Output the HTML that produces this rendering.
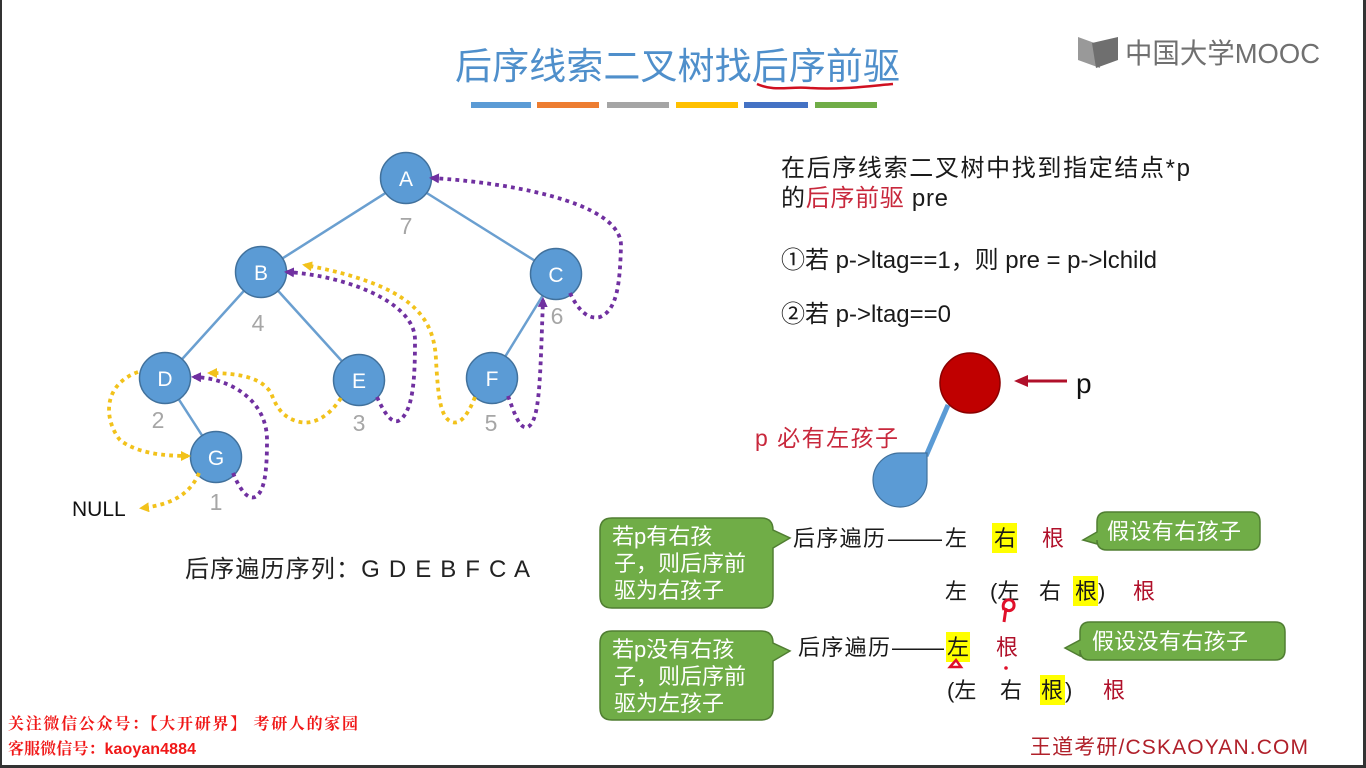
<!DOCTYPE html>
<html><head><meta charset="utf-8"><style>
html,body{margin:0;padding:0;background:#fff;}
body{width:1366px;height:768px;overflow:hidden;position:relative;}
svg{position:absolute;left:0;top:0;}
text{font-family:"Liberation Sans","Noto Sans CJK SC",sans-serif;}
</style></head><body>
<svg width="1366" height="768" viewBox="0 0 1366 768" xmlns="http://www.w3.org/2000/svg">
<defs>
<marker id="mp" markerWidth="10" markerHeight="10" refX="7" refY="5" orient="auto" markerUnits="userSpaceOnUse"><path d="M0,0 L10,5 L0,10 Z" fill="#7030A0"/></marker>
<marker id="my" markerWidth="10" markerHeight="10" refX="7" refY="5" orient="auto" markerUnits="userSpaceOnUse"><path d="M0,0 L10,5 L0,10 Z" fill="#F2C21B"/></marker>
<marker id="mr" markerWidth="14" markerHeight="14" refX="10" refY="7" orient="auto" markerUnits="userSpaceOnUse"><path d="M0,1 L14,7 L0,13 Z" fill="#B0102A"/></marker>
</defs>
<!-- borders -->
<rect x="0" y="0" width="2" height="768" fill="#333"/>
<rect x="1363" y="0" width="3" height="768" fill="#333"/>
<rect x="0" y="765" width="1366" height="3" fill="#333"/>

<!-- title -->
<text x="455" y="79" font-size="37" fill="#4F8FCB" textLength="445" lengthAdjust="spacing">后序线索二叉树找后序前驱</text>
<path d="M757,84 C775,92 790,86 810,88 C840,90 870,86 893,84" stroke="#D01020" stroke-width="2.5" fill="none"/>
<rect x="471" y="102" width="60" height="6" fill="#5B9BD5"/>
<rect x="537" y="102" width="62" height="6" fill="#ED7D31"/>
<rect x="607" y="102" width="62" height="6" fill="#A5A5A5"/>
<rect x="676" y="102" width="62" height="6" fill="#FFC000"/>
<rect x="744" y="102" width="64" height="6" fill="#4472C4"/>
<rect x="815" y="102" width="62" height="6" fill="#70AD47"/>

<!-- MOOC logo -->
<path d="M1078,37 L1100,45 L1100,68 L1078,60 Z" fill="#999"/>
<path d="M1092,43 L1118,37 L1118,60 L1096,68 Z" fill="#6f6f6f"/>
<text x="1125" y="63" font-size="28" fill="#707070" textLength="195" lengthAdjust="spacingAndGlyphs">中国大学MOOC</text>

<!-- tree edges -->
<g stroke="#6A9FD0" stroke-width="2.5">
<line x1="406" y1="180" x2="261" y2="272"/>
<line x1="406" y1="180" x2="556" y2="274"/>
<line x1="261" y1="272" x2="165" y2="378"/>
<line x1="261" y1="272" x2="359" y2="380"/>
<line x1="556" y1="274" x2="492" y2="378"/>
<line x1="165" y1="378" x2="216" y2="457"/>
</g>
<!-- nodes -->
<g fill="#5B9BD5" stroke="#41719C" stroke-width="1.5">
<circle cx="406" cy="178" r="25.5"/>
<circle cx="261" cy="272" r="25.5"/>
<circle cx="556" cy="274" r="25.5"/>
<circle cx="165" cy="378" r="25.5"/>
<circle cx="359" cy="380" r="25.5"/>
<circle cx="492" cy="378" r="25.5"/>
<circle cx="216" cy="457" r="25.5"/>
</g>
<g font-size="21" fill="#fff" text-anchor="middle">
<text x="406" y="186">A</text>
<text x="261" y="280">B</text>
<text x="556" y="282">C</text>
<text x="165" y="386">D</text>
<text x="359" y="388">E</text>
<text x="492" y="386">F</text>
<text x="216" y="465">G</text>
</g>
<g font-size="23" fill="#A6A6A6" text-anchor="middle">
<text x="406" y="234">7</text>
<text x="258" y="331">4</text>
<text x="557" y="324">6</text>
<text x="158" y="428">2</text>
<text x="359" y="431">3</text>
<text x="491" y="431">5</text>
<text x="216" y="510">1</text>
</g>
<text x="72" y="516" font-size="21" fill="#111">NULL</text>

<!-- yellow dotted -->
<g fill="none" stroke="#F2C21B" stroke-width="3.8" stroke-dasharray="3.8 4.2">
<path d="M199,473 C190,495 170,505 142,508" marker-end="url(#my)"/>
<path d="M138,372 C102,385 104,420 120,440 C135,452 160,456 188,456" marker-end="url(#my)"/>
<path d="M341,398 C330,415 315,425 300,422 C282,418 276,406 271,393 C262,378 240,373 210,373" marker-end="url(#my)"/>
<path d="M475,397 C468,415 460,425 452,422 C440,418 438,395 436,360 C434,315 410,285 305,265" marker-end="url(#my)"/>
</g>
<!-- purple dotted -->
<g fill="none" stroke="#7030A0" stroke-width="3.8" stroke-dasharray="3.8 4.2">
<path d="M233,473 C240,490 248,500 255,497 C265,492 267,470 267,440 C267,400 230,378 194,377" marker-end="url(#mp)"/>
<path d="M377,397 C385,415 393,425 400,420 C413,410 415,380 415,340 C415,300 340,275 287,272" marker-end="url(#mp)"/>
<path d="M508,396 C515,415 520,430 528,427 C540,420 540,380 543,300" marker-end="url(#mp)"/>
<path d="M570,293 C578,310 588,320 600,317 C618,310 620,280 621,245 C620,200 500,182 432,178" marker-end="url(#mp)"/>
</g>

<text x="185" y="577" font-size="24" fill="#222" textLength="345" lengthAdjust="spacing">后序遍历序列：G D E B F C A</text>

<!-- right text -->
<g font-size="24" fill="#1a1a1a">
<text x="781" y="176" textLength="409" lengthAdjust="spacing">在后序线索二叉树中找到指定结点*p</text>
<text x="781" y="206" textLength="167" lengthAdjust="spacing">的<tspan fill="#C8283C">后序前驱</tspan> pre</text>
<text x="781" y="268" textLength="376" lengthAdjust="spacing">①若 p-&gt;ltag==1，则 pre = p-&gt;lchild</text>
<text x="781" y="322" textLength="170" lengthAdjust="spacing">②若 p-&gt;ltag==0</text>
</g>

<!-- p diagram -->
<line x1="948" y1="405" x2="926" y2="456" stroke="#5B9BD5" stroke-width="5"/>
<path d="M927,453 L927,479 A27,27 0 1,1 900,453 Z" fill="#5B9BD5" stroke="#41719C" stroke-width="1.2"/>
<circle cx="970" cy="383" r="30" fill="#C00000" stroke="#8B0000" stroke-width="1.5"/>
<line x1="1067" y1="381" x2="1018" y2="381" stroke="#B0102A" stroke-width="3" marker-end="url(#mr)"/>
<text x="1076" y="393" font-size="28" fill="#111">p</text>
<text x="755" y="446" font-size="23" fill="#C8283C" textLength="143" lengthAdjust="spacing">p 必有左孩子</text>

<!-- green callouts -->
<g fill="#70AD47" stroke="#507E32" stroke-width="1.5">
<path d="M612,518 H761 Q773,518 773,530 V530 L790,538 L773,548 V596 Q773,608 761,608 H612 Q600,608 600,596 V530 Q600,518 612,518 Z"/>
<path d="M612,631 H761 Q773,631 773,643 V643 L790,651 L773,661 V708 Q773,720 761,720 H612 Q600,720 600,708 V643 Q600,631 612,631 Z"/>
<path d="M1107,512 H1250 Q1260,512 1260,522 V540 Q1260,550 1250,550 H1107 Q1097,550 1097,540 V544 L1083,540 L1097,532 V522 Q1097,512 1107,512 Z"/>
<path d="M1090,622 H1275 Q1285,622 1285,632 V650 Q1285,660 1275,660 H1090 Q1080,660 1080,650 V656 L1065,648 L1080,640 V632 Q1080,622 1090,622 Z"/>
</g>
<g font-size="22" fill="#fff">
<text x="612" y="544">若p有右孩</text>
<text x="614" y="571">子，则后序前</text>
<text x="614" y="598">驱为右孩子</text>
<text x="612" y="657">若p没有右孩</text>
<text x="614" y="684">子，则后序前</text>
<text x="614" y="711">驱为左孩子</text>
<text x="1107" y="539" textLength="134" lengthAdjust="spacing">假设有右孩子</text>
<text x="1092" y="649" textLength="156" lengthAdjust="spacing">假设没有右孩子</text>
</g>

<!-- highlights -->
<rect x="992" y="523" width="25" height="30" fill="#FFFF00"/>
<rect x="1073" y="576" width="25" height="30" fill="#FFFF00"/>
<rect x="946" y="632" width="24" height="30" fill="#FFFF00"/>
<rect x="1040" y="675" width="25" height="30" fill="#FFFF00"/>

<g font-size="22" fill="#1a1a1a">
<text x="793" y="546" textLength="92" lengthAdjust="spacing">后序遍历</text>
<text x="888" y="546" textLength="54" lengthAdjust="spacingAndGlyphs">——</text>
<text x="945" y="546">左</text>
<text x="994" y="546">右</text>
<text x="1042" y="546" fill="#B0102A">根</text>
<text x="945" y="599">左</text>
<text x="990" y="599">(左</text>
<text x="1039" y="599">右</text>
<text x="1075" y="599">根</text>
<text x="1098" y="599">)</text>
<text x="1133" y="599" fill="#B0102A">根</text>
<text x="798" y="655" textLength="92" lengthAdjust="spacing">后序遍历</text>
<text x="892" y="655" textLength="52" lengthAdjust="spacingAndGlyphs">——</text>
<text x="947" y="655">左</text>
<text x="996" y="655" fill="#B0102A">根</text>
<text x="947" y="698">(左</text>
<text x="1000" y="698">右</text>
<text x="1041" y="698">根</text>
<text x="1065" y="698">)</text>
<text x="1103" y="698" fill="#B0102A">根</text>
</g>
<!-- handwriting marks -->
<path d="M1004,622 L1006,608 M1004,610 C1000,600 1012,596 1014,604 C1015,612 1006,612 1004,608" stroke="#E0102A" stroke-width="3" fill="none"/>
<circle cx="1006" cy="668" r="1.8" fill="#E0102A"/>
<path d="M950,667 L956,660 L961,667 Z" stroke="#E0102A" stroke-width="2.5" fill="none"/>

<!-- footer -->
<text x="8" y="729" font-size="16" font-weight="bold" fill="#F01818" style="font-family:'Noto Serif CJK SC','Liberation Serif',serif" textLength="350" lengthAdjust="spacing">关注微信公众号：【大开研界】 考研人的家园</text>
<text x="8" y="754" font-size="16" font-weight="bold" fill="#F01818" style="font-family:'Noto Serif CJK SC','Liberation Serif',serif" textLength="188" lengthAdjust="spacing">客服微信号：<tspan style="font-family:'Liberation Sans',sans-serif">kaoyan4884</tspan></text>
<text x="1030" y="754" font-size="21" fill="#B0202A" textLength="278" lengthAdjust="spacing">王道考研/CSKAOYAN.COM</text>
</svg>
</body></html>
